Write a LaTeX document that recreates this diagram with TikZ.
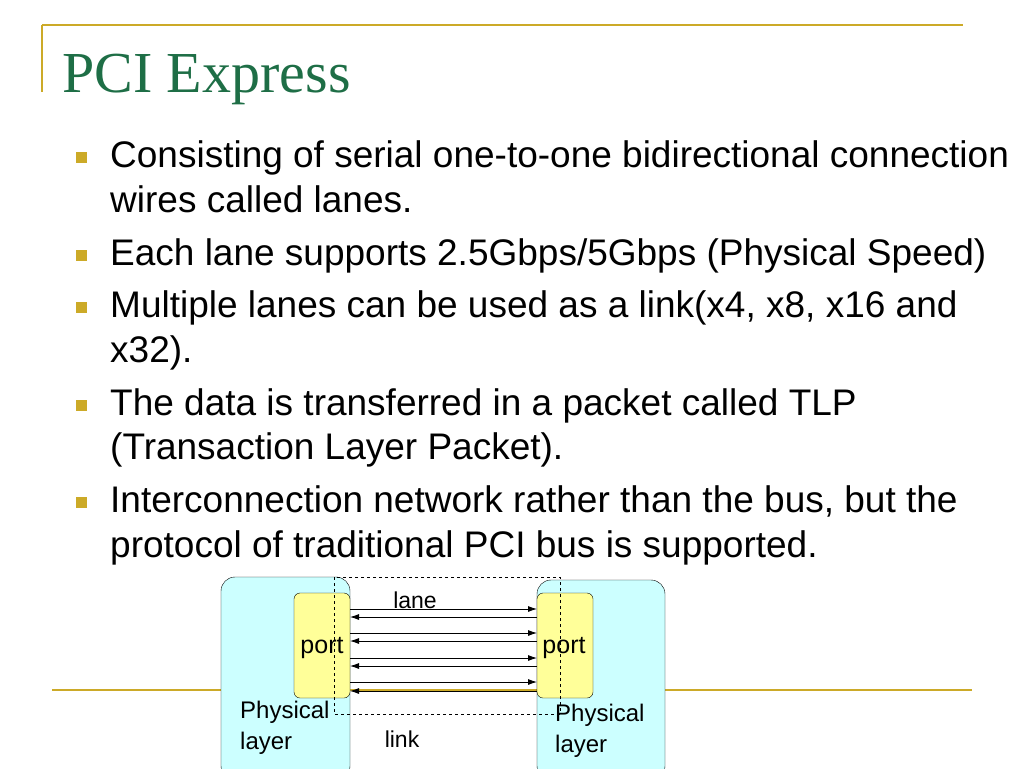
\documentclass[tikz,border=0pt]{standalone}
\usepackage{fontspec}
\usetikzlibrary{arrows.meta}
\setmainfont{Liberation Sans}
\newfontfamily\titlefont{Liberation Serif}
\definecolor{gold}{RGB}{204,170,40}
\definecolor{titlegreen}{RGB}{30,110,70}
\definecolor{phys}{RGB}{204,255,255}
\definecolor{portc}{RGB}{255,255,153}
\begin{document}
\begin{tikzpicture}[x=1pt,y=-1pt,
  bul/.style={fill=gold,minimum size=11pt,inner sep=0pt},
  txt/.style={anchor=base west,inner sep=0pt,font=\fontsize{37}{42}\selectfont},
  lbl/.style={inner sep=0pt,font=\fontsize{25}{30}\selectfont},
  ln/.style={-{Latex[length=9pt,width=6pt]},line width=0.8pt}]
\useasboundingbox (0,0) rectangle (1024,768);
\clip (0,0) rectangle (1024,768);
\draw[gold,line width=1.5pt] (42,25) -- (963,25);
\draw[gold,line width=1.5pt] (42,25) -- (42,92);
\node[anchor=base west,inner sep=0pt,text=titlegreen,font=\titlefont\fontsize{58}{62}\selectfont] (title) at (62,92) {PCI Express};
\node[bul] (b1) at (81,157) {};
\node[bul] (b2) at (81,255) {};
\node[bul] (b3) at (81,307) {};
\node[bul] (b4) at (81,405) {};
\node[bul] (b5) at (81,502) {};
\node[txt] (t1) at (110,167) {Consisting of serial one-to-one bidirectional connection};
\node[txt] (t1b) at (110,212) {wires called lanes.};
\node[txt] (t2) at (110,265) {Each lane supports 2.5Gbps/5Gbps (Physical Speed)};
\node[txt] (t3) at (110,317) {Multiple lanes can be used as a link(x4, x8, x16 and};
\node[txt] (t3b) at (110,362) {x32).};
\node[txt] (t4) at (110,415) {The data is transferred in a packet called TLP};
\node[txt] (t4b) at (110,459) {(Transaction Layer Packet).};
\node[txt] (t5) at (110,512) {Interconnection network rather than the bus, but the};
\node[txt] (t5b) at (110,557) {protocol of traditional PCI bus is supported.};
\draw[gold,line width=1.5pt] (52,690) -- (972,690);
\draw[fill=phys,rounded corners=14pt] (221,577) rectangle (350,780);
\draw[fill=phys,rounded corners=14pt] (537,580) rectangle (665,780);
\node[draw,fill=portc,rounded corners=6pt,minimum width=56pt,minimum height=105pt,inner sep=0pt] (pl) at (322,645.5) {};
\node[draw,fill=portc,rounded corners=6pt,minimum width=56pt,minimum height=105pt,inner sep=0pt] (pr) at (565,645.5) {};
\node[lbl] at (322,648) {port};
\node[lbl] at (564,648) {port};
\foreach \y in {609,633,658,682} \draw[ln] (350,\y) -- (537,\y);
\foreach \y in {617,641,666,691} \draw[ln] (537,\y) -- (350,\y);
\draw[dashed] (334,577) rectangle (560,714);
\node[lbl,font=\fontsize{23}{28}\selectfont] (lane) at (415,600) {lane};
\node[lbl,font=\fontsize{23}{28}\selectfont] (link) at (402,739) {link};
\node[lbl,anchor=west,align=left,font=\fontsize{24}{31}\selectfont] (phl) at (240,728) {Physical\\layer};
\node[lbl,anchor=west,align=left,font=\fontsize{24}{31}\selectfont] (phr) at (555,731) {Physical\\layer};
\end{tikzpicture}
\end{document}
